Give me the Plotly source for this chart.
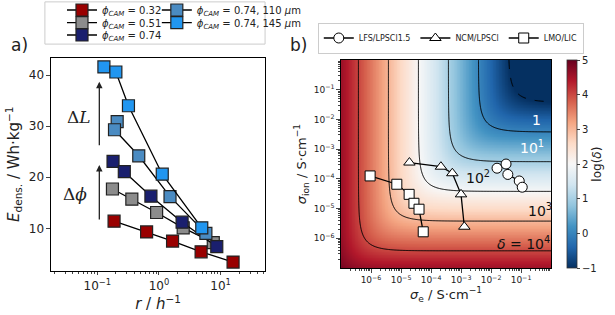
import numpy as np
import plotly.graph_objects as go

# ---------------- panel a: energy density vs. rate ----------------
r_032 = [0.187, 0.63, 1.66, 4.82, 15.9]
e_032 = [11.4, 9.3, 7.5, 5.4, 3.4]
r_051 = [0.176, 0.363, 0.916, 2.47, 7.59]
e_051 = [17.7, 15.7, 13.1, 10.1, 7.2]
r_074 = [0.18, 0.274, 0.74, 2.37, 8.65]
e_074 = [23.1, 21.1, 16.3, 11.2, 6.4]
r_110 = [0.21, 0.19, 0.47, 1.51, 5.76]
e_110 = [30.9, 29.3, 24.2, 16.2, 9.0]
r_145 = [0.128, 0.2, 0.32, 1.13, 4.94]
e_145 = [41.6, 40.6, 34.0, 20.6, 10.1]

# ---------------- panel b: conductivity map ----------------
lfs_se = [10**-1.8, 10**-1.5, 10**-1.44, 10**-1.06, 10**-0.96]
lfs_si = [10**-3.64, 10**-3.5, 10**-3.85, 10**-4.07, 10**-4.28]
ncm_se = [10**-4.72, 10**-3.67, 10**-3.29, 10**-3.0, 10**-2.89]
ncm_si = [10**-3.45, 10**-3.59, 10**-3.81, 10**-4.52, 10**-5.61]
lmo_se = [10**-6.03, 10**-5.14, 10**-4.73, 10**-4.57, 10**-4.4, 10**-4.26]
lmo_si = [10**-3.9, 10**-4.18, 10**-4.52, 10**-4.82, 10**-5.02, 10**-5.78]

DELTA_PREFACTOR = -2.42  # log10 of the prefactor
contour_levels = [0, 1, 2, 3, 4]

FONT = "DejaVu Sans"
RDBU_R = ["#053061", "#2166ac", "#4393c3", "#92c5de", "#d1e5f0", "#f7f7f7",
          "#fddbc7", "#f4a582", "#d6604d", "#b2182b", "#67001f"]

fig = go.Figure()

# one small legend per cell of the 2-column matplotlib legend
series_a = [
    ("<i>ϕ</i><sub><i>CAM</i></sub> = 0.32", r_032, e_032, "#990000", "legend"),
    ("<i>ϕ</i><sub><i>CAM</i></sub> = 0.51", r_051, e_051, "#8c8c8c", "legend3"),
    ("<i>ϕ</i><sub><i>CAM</i></sub> = 0.74", r_074, e_074, "#1a1f6e", "legend4"),
    ("<i>ϕ</i><sub><i>CAM</i></sub> = 0.74, 110 <i>μ</i>m", r_110, e_110, "#4a8bc2", "legend5"),
    ("<i>ϕ</i><sub><i>CAM</i></sub> = 0.74, 145 <i>μ</i>m", r_145, e_145, "#2196f0", "legend6"),
]
for name, rx, ey, col, leg in series_a:
    fig.add_trace(go.Scatter(
        x=rx, y=ey, name=name, mode="lines+markers",
        line=dict(color="black", width=1.3),
        marker=dict(symbol="square", size=12, color=col, line=dict(color="#222", width=1.2)),
        xaxis="x", yaxis="y", legend=leg))

# heatmap of log(delta)
log_se = np.linspace(-7, 0, 281)
log_si = np.linspace(-7, 0, 281)
z = DELTA_PREFACTOR + np.log10(10.0 ** -log_se[None, :] + 10.0 ** -log_si[:, None])

fig.add_trace(go.Heatmap(
    x=log_se, y=log_si, z=z, zmin=-1, zmax=5, zsmooth="best",
    colorscale=[[i / 10, c] for i, c in enumerate(RDBU_R)],
    colorbar=dict(x=0.922, xanchor="left", y=0.479, len=0.66, thickness=10, xpad=0, ypad=0,
                  tickvals=[-1, 0, 1, 2, 3, 4, 5], ticktext=["−1", "0", "1", "2", "3", "4", "5"],
                  ticks="outside", ticklen=3, outlinewidth=0.8, outlinecolor="#333",
                  tickfont=dict(size=10, family=FONT),
                  title=dict(text="log(<i>δ</i>)", side="right", font=dict(size=12, family=FONT))),
    xaxis="x2", yaxis="y2", showlegend=False, hoverinfo="skip"))
fig.add_trace(go.Contour(
    x=log_se, y=log_si, z=z, showscale=False, hoverinfo="skip",
    contours=dict(coloring="none", start=contour_levels[0], end=contour_levels[-1], size=1),
    line=dict(color="black", width=1), xaxis="x2", yaxis="y2", showlegend=False))
fig.add_trace(go.Contour(
    x=log_se, y=log_si, z=z, showscale=False, hoverinfo="skip",
    contours=dict(coloring="none", start=-1, end=-1, size=1),
    line=dict(color="black", width=1, dash="dash"), xaxis="x2", yaxis="y2", showlegend=False))

series_b = [
    ("LFS/LPSCl1.5", lfs_se, lfs_si, "circle"),
    ("NCM/LPSCl", ncm_se, ncm_si, "triangle-up"),
    ("LMO/LIC", lmo_se, lmo_si, "square"),
]
for name, sx, sy, sym in series_b:
    fig.add_trace(go.Scatter(
        x=sx, y=sy, name=name, mode="lines+markers",
        line=dict(color="black", width=1.3),
        marker=dict(symbol=sym, size=10, color="white", line=dict(color="black", width=1)),
        xaxis="x3", yaxis="y3", legend="legend2"))


def minor_vals(lo, hi):
    return [m * 10.0 ** k for k in range(lo, hi) for m in range(2, 10)]


tickfont_a = dict(size=12, family=FONT, color="#222")
tickfont_b = dict(size=9, family=FONT, color="#222")
axis_common = dict(showline=True, linecolor="black", linewidth=1.2, mirror=True,
                   ticks="outside", ticklen=3.5, tickwidth=1, showgrid=False, zeroline=False)
cell = dict(xanchor="left", yanchor="middle", orientation="v", font=dict(size=10, family=FONT),
            bgcolor="rgba(0,0,0,0)", itemwidth=30)
col1, col2 = 0.1008, 0.255
row1, row2, row3 = 1 - 10 / 315, 1 - 22.7 / 315, 1 - 35 / 315

fig.update_layout(
    width=615, height=315, margin=dict(l=0, r=0, t=0, b=0, autoexpand=False),
    paper_bgcolor="white", plot_bgcolor="white",
    font=dict(family=FONT, color="#222"),
    xaxis=dict(domain=[0.083, 0.431], anchor="y", type="log", range=[-1.75, 1.72],
               tickvals=[0.1, 1, 10], ticktext=["10<sup>−1</sup>", "10<sup>0</sup>", "10<sup>1</sup>"],
               tickfont=tickfont_a,
               minor=dict(tickmode="array", tickvals=minor_vals(-2, 2), ticks="outside", ticklen=2),
               title=dict(text="<i>r</i> / <i>h</i><sup>−1</sup>", font=dict(size=15), standoff=2),
               **axis_common),
    yaxis=dict(domain=[0.1406, 0.8168], anchor="x", range=[1.7, 43.4],
               tickvals=[10, 20, 30, 40], tickfont=tickfont_a,
               title=dict(text="<i>E</i><sub>dens.</sub> / Wh·kg<sup>−1</sup>", font=dict(size=15), standoff=5),
               **axis_common),
    xaxis2=dict(domain=[0.5545, 0.896], anchor="y2", range=[-7, 0], visible=False),
    yaxis2=dict(domain=[0.149, 0.8095], anchor="x2", range=[-7, 0], visible=False),
    xaxis3=dict(overlaying="x2", anchor="y3", type="log", range=[-7, 0],
                tickvals=[1e-6, 1e-5, 1e-4, 1e-3, 1e-2, 1e-1],
                ticktext=["10<sup>−%d</sup>" % k for k in range(6, 0, -1)],
                tickfont=tickfont_b,
                minor=dict(tickmode="array", tickvals=minor_vals(-7, 0), ticks="outside", ticklen=2),
                title=dict(text="<i>σ</i><sub>e</sub> / S·cm<sup>−1</sup>", font=dict(size=13), standoff=3),
                **axis_common),
    yaxis3=dict(overlaying="y2", anchor="x3", type="log", range=[-7, 0],
                tickvals=[1e-6, 1e-5, 1e-4, 1e-3, 1e-2, 1e-1],
                ticktext=["10<sup>−%d</sup>" % k for k in range(6, 0, -1)],
                tickfont=tickfont_b,
                minor=dict(tickmode="array", tickvals=minor_vals(-7, 0), ticks="outside", ticklen=2),
                title=dict(text="<i>σ</i><sub>ion</sub> / S·cm<sup>−1</sup>", font=dict(size=13), standoff=4),
                **axis_common),
    legend=dict(x=col1, y=row1, **cell),
    legend3=dict(x=col1, y=row2, **cell),
    legend4=dict(x=col1, y=row3, **cell),
    legend5=dict(x=col2, y=row1, **cell),
    legend6=dict(x=col2, y=row2, **cell),
    legend2=dict(x=0.733, xanchor="center", y=1 - 38 / 315, yanchor="middle", orientation="h",
                 font=dict(size=8, family=FONT), bordercolor="#ccc", borderwidth=1,
                 bgcolor="white", itemwidth=30),
)

# frame of the two-column legend in panel a
fig.add_shape(type="rect", xref="paper", yref="paper", x0=0.073, x1=0.431, y0=0.86, y1=0.994,
              line=dict(color="#ccc", width=1), fillcolor="rgba(0,0,0,0)", layer="below")

ann = [
    dict(x=0.0325, y=1 - 45 / 315, text="a)", font=dict(size=17)),
    dict(x=0.485, y=1 - 45 / 315, text="b)", font=dict(size=17)),
    dict(x=0.128, y=0.629, text="Δ<i>L</i>", font=dict(size=17, family="DejaVu Serif")),
    dict(x=0.122, y=0.384, text="Δ<i>ϕ</i>", font=dict(size=17, family="DejaVu Serif")),
]
for a in ann:
    fig.add_annotation(xref="paper", yref="paper", showarrow=False,
                       xanchor="center", yanchor="middle", **a)
for y_head, dy in [(0.7406, 65), (0.476, 56)]:
    fig.add_annotation(xref="paper", yref="paper", x=0.1615, y=y_head, text="",
                       showarrow=True, ax=0, ay=dy, arrowhead=2, arrowsize=1, arrowwidth=1.3,
                       arrowcolor="#222")

labels_b = [
    (-0.47, -2.02, "1", "white"),
    (-0.63, -2.93, "10<sup>1</sup>", "white"),
    (-2.43, -3.94, "10<sup>2</sup>", "#111"),
    (-0.37, -5.05, "10<sup>3</sup>", "#111"),
    (-0.92, -6.16, "<i>δ</i> = 10<sup>4</sup>", "#111"),
]
for lx, ly, txt, col in labels_b:
    fig.add_annotation(xref="x2", yref="y2", x=lx, y=ly, text=txt, showarrow=False,
                       font=dict(size=14, color=col, family=FONT))

# the page's default body margin would shift the 615x315 figure inside the window
fig.write_html("out.html", config={"displayModeBar": False},
               post_script="document.body.style.margin = '0px';")
